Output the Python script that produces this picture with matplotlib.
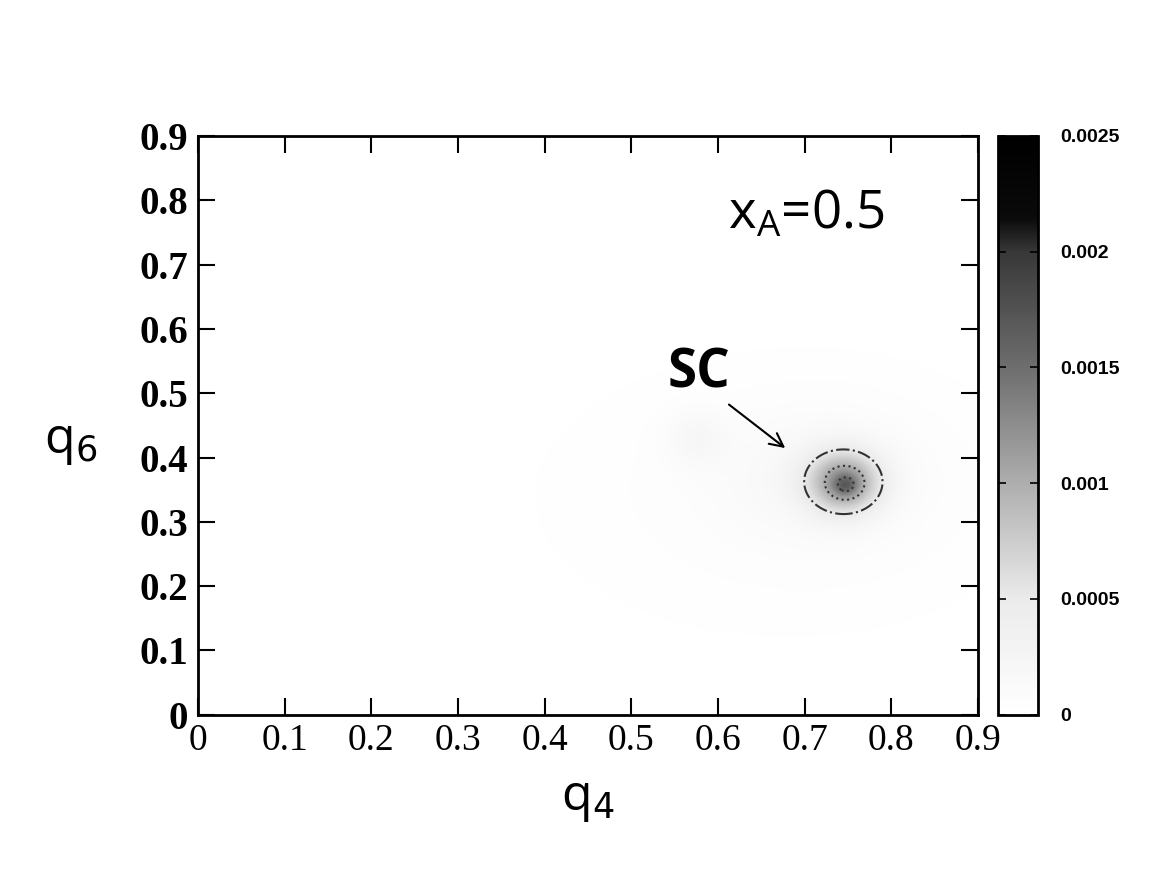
import numpy as np
import matplotlib
matplotlib.use("Agg")
import matplotlib.pyplot as plt
from matplotlib.colors import LinearSegmentedColormap

# density blobs (centre q4, centre q6, widths, height)
blob_q4 = [0.748, 0.746, 0.72, 0.575, 0.68]
blob_q6 = [0.357, 0.362, 0.37, 0.43, 0.34]
blob_sx = [0.010, 0.030, 0.08, 0.025, 0.16]
blob_sy = [0.012, 0.034, 0.07, 0.030, 0.12]
blob_amp = [0.00049, 0.00106, 0.00014, 0.00016, 0.00005]

contour_levels = [0.0005, 0.001, 0.0015]
contour_styles = ['-.', ':', ':']

ticks = [0, 0.1, 0.2, 0.3, 0.4, 0.5, 0.6, 0.7, 0.8, 0.9]
tick_labels = ['0', '0.1', '0.2', '0.3', '0.4', '0.5', '0.6', '0.7', '0.8', '0.9']
cb_ticks = [0, 0.0005, 0.001, 0.0015, 0.002, 0.0025]
cb_labels = ['0', '0.0005', '0.001', '0.0015', '0.002', '0.0025']

q4 = np.linspace(0, 0.9, 361)
q6 = np.linspace(0, 0.9, 361)
Q4, Q6 = np.meshgrid(q4, q6)
P = np.zeros_like(Q4)
for x0, y0, sx, sy, a in zip(blob_q4, blob_q6, blob_sx, blob_sy, blob_amp):
    P += a * np.exp(-((Q4 - x0) ** 2 / (2 * sx ** 2) + (Q6 - y0) ** 2 / (2 * sy ** 2)))

grey = LinearSegmentedColormap.from_list(
    'grey_neg',
    [(0.0, (1, 1, 1)), (0.2, (0.92, 0.92, 0.92)), (0.4, (0.68, 0.68, 0.68)),
     (0.6, (0.43, 0.43, 0.43)), (0.8, (0.22, 0.22, 0.22)), (0.86, (0.04, 0.04, 0.04)),
     (1.0, (0, 0, 0))])

fig = plt.figure(figsize=(11.52, 8.77), dpi=100)
ax = fig.add_axes([0.172, 0.185, 0.677, 0.660])
cax = fig.add_axes([0.866, 0.185, 0.035, 0.660])

im = ax.imshow(P, extent=[0, 0.9, 0, 0.9], origin='lower', cmap=grey,
               vmin=0, vmax=0.0025, aspect='auto', interpolation='bilinear')
for lev, ls in zip(contour_levels, contour_styles):
    ax.contour(Q4, Q6, P, levels=[lev], colors='#333333', linestyles=ls, linewidths=1.5)

ax.set_xlim(0, 0.9)
ax.set_ylim(0, 0.9)
ax.set_xticks(ticks)
ax.set_yticks(ticks)
ax.set_xticklabels(tick_labels, family='Liberation Serif', fontsize=27)
ax.set_yticklabels(tick_labels, family='Liberation Serif', fontsize=28, fontweight='bold')
ax.tick_params(direction='in', length=12, width=1.5, top=True, right=True)
ax.tick_params(axis='x', pad=6)
ax.tick_params(axis='y', pad=7)
for s in ax.spines.values():
    s.set_linewidth(2)

ax.set_xlabel('q$_4$', fontsize=36, family='Open Sans', labelpad=12)
ax.set_ylabel('q$_6$', fontsize=36, family='Open Sans', rotation=0, va='center')
ax.yaxis.set_label_coords(-0.163, 0.47)

ax.text(0.612, 0.778, 'x$_\\mathregular{A}$=0.5', fontsize=38, family='Open Sans', va='center')
ax.text(0.578, 0.53, 'SC', fontsize=38, family='Open Sans', fontweight='bold',
        ha='center', va='center')
ax.annotate('', xy=(0.68, 0.412), xytext=(0.61, 0.485),
            arrowprops=dict(arrowstyle='->', color='black', lw=1.5, mutation_scale=24))

cb = fig.colorbar(im, cax=cax, ticks=cb_ticks)
cb.ax.set_yticklabels(cb_labels, family='Liberation Sans', fontsize=14, fontweight='bold')
cb.ax.tick_params(direction='in', length=6, width=1.2, left=True, right=True, pad=16)
cb.outline.set_linewidth(2)

plt.savefig('out.png', dpi=100)
